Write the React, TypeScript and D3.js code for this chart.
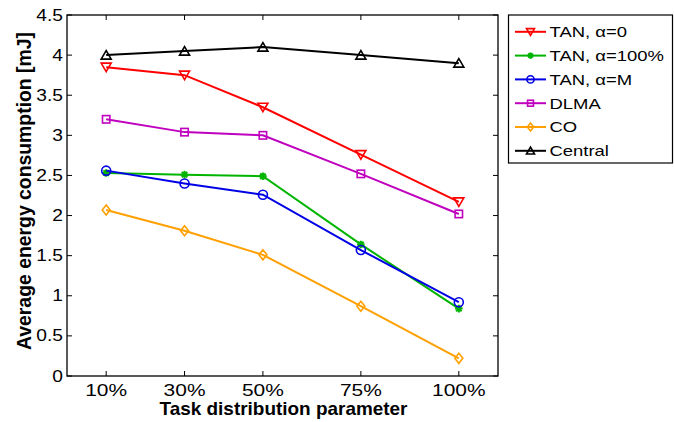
import React from "react";
import * as d3 from "d3";

const xValues = [10, 30, 50, 75, 100];
const xTickLabels = ["10%", "30%", "50%", "75%", "100%"];
const yTicks = [0, 0.5, 1, 1.5, 2, 2.5, 3, 3.5, 4, 4.5];
const yTickLabels = ["0", "0.5", "1", "1.5", "2", "2.5", "3", "3.5", "4", "4.5"];

const seriesNames = ["TAN, α=0", "TAN, α=100%", "TAN, α=M", "DLMA", "CO", "Central"];
const seriesColors = ["#ff0000", "#00b400", "#0000e6", "#bf00bf", "#ffa000", "#000000"];
const seriesMarkers = ["triDown", "star", "circle", "square", "diamond", "triUp"];

const tan0 = [3.85, 3.75, 3.35, 2.76, 2.17];
const tan100 = [2.53, 2.51, 2.49, 1.64, 0.84];
const tanM = [2.56, 2.4, 2.26, 1.57, 0.92];
const dlma = [3.2, 3.04, 3.0, 2.52, 2.02];
const co = [2.07, 1.81, 1.51, 0.87, 0.22];
const central = [4.0, 4.05, 4.1, 4.0, 3.9];

const seriesValues = [tan0, tan100, tanM, dlma, co, central];

const FONT = "'Liberation Sans', Arial, Helvetica, sans-serif";

function Marker({ type, x, y, color, s = 1 }: { type: string; x: number; y: number; color: string; s?: number }) {
  const sw = 1.6;
  const common = { fill: "none", stroke: color, strokeWidth: sw };
  if (type === "triDown") {
    const p = `M${x - 5 * s},${y - 4 * s}L${x + 5 * s},${y - 4 * s}L${x},${y + 4.5 * s}Z`;
    return <path d={p} {...common} />;
  }
  if (type === "triUp") {
    const p = `M${x - 5 * s},${y + 4 * s}L${x + 5 * s},${y + 4 * s}L${x},${y - 4.5 * s}Z`;
    return <path d={p} {...common} />;
  }
  if (type === "circle") return <circle cx={x} cy={y} r={4.5 * s} {...common} />;
  if (type === "square") {
    const h = 3.7 * s;
    return <rect x={x - h} y={y - h} width={2 * h} height={2 * h} {...common} />;
  }
  if (type === "diamond") {
    const p = `M${x},${y - 5 * s}L${x + 4 * s},${y}L${x},${y + 5 * s}L${x - 4 * s},${y}Z`;
    return <path d={p} {...common} />;
  }
  if (type === "star") {
    const r = 3.8 * s;
    const d = r * 0.72;
    const p = `M${x - r},${y}L${x + r},${y}M${x},${y - r}L${x},${y + r}M${x - d},${y - d}L${x + d},${y + d}M${x - d},${y + d}L${x + d},${y - d}`;
    return <path d={p} fill="none" stroke={color} strokeWidth={2} />;
  }
  return null;
}

function SText({ x, y, size, sx = 1, anchor = "start", children, weight = "normal" }: any) {
  return (
    <text
      transform={`translate(${x},${y}) scale(${sx},1)`}
      fontSize={size}
      fontFamily={FONT}
      fontWeight={weight}
      textAnchor={anchor}
      fill="#000"
    >
      {children}
    </text>
  );
}

export default function App() {
  const W = 674;
  const H = 422;
  const left = 67, right = 498, top = 15, bottom = 376;
  const x = d3.scaleLinear().domain([0, 110]).range([left, right]);
  const y = d3.scaleLinear().domain([0, 4.5]).range([bottom, top]);
  const line = d3
    .line<number>()
    .x((_, i) => x(xValues[i]))
    .y((d) => y(d));

  const tickLen = 5;
  const legX = 508.5, legY = 15, legW = 164, legH = 148;
  const legRowY = (i: number) => 31.8 + i * 23.8;

  return (
    <svg width={W} height={H} style={{ position: "absolute", left: 0, top: 0, background: "#fff" }}>
      <rect x={0} y={0} width={W} height={H} fill="#fff" />
      {/* ticks */}
      {xValues.map((v, i) => (
        <g key={"xt" + i} stroke="#000" strokeWidth={1}>
          <line x1={x(v)} x2={x(v)} y1={bottom} y2={bottom - tickLen} />
          <line x1={x(v)} x2={x(v)} y1={top} y2={top + tickLen} />
        </g>
      ))}
      {yTicks.map((v, i) => (
        <g key={"yt" + i} stroke="#000" strokeWidth={1}>
          <line x1={left} x2={left + tickLen} y1={y(v)} y2={y(v)} />
          <line x1={right} x2={right - tickLen} y1={y(v)} y2={y(v)} />
        </g>
      ))}
      {/* series */}
      {seriesValues.map((vals, si) => (
        <g key={"s" + si}>
          <path d={line(vals) || ""} fill="none" stroke={seriesColors[si]} strokeWidth={2} />
          {vals.map((v, i) => (
            <Marker key={i} type={seriesMarkers[si]} x={x(xValues[i])} y={y(v)} color={seriesColors[si]} />
          ))}
        </g>
      ))}
      {/* frame */}
      <rect x={left} y={top} width={right - left} height={bottom - top} fill="none" stroke="#000" strokeWidth={1.3} />
      {/* tick labels */}
      {yTicks.map((v, i) => (
        <SText key={"yl" + i} x={63} y={y(v) + 5.6} size={16} sx={1.2} anchor="end">
          {yTickLabels[i]}
        </SText>
      ))}
      {xValues.map((v, i) => (
        <SText key={"xl" + i} x={x(v)} y={395.6} size={16.5} sx={1.27} anchor="middle">
          {xTickLabels[i]}
        </SText>
      ))}
      {/* axis titles */}
      <text
        x={283.5}
        y={414.5}
        fontSize={18.5}
        fontWeight="bold"
        fontFamily={FONT}
        textAnchor="middle"
        textLength={248}
        lengthAdjust="spacingAndGlyphs"
      >
        Task distribution parameter
      </text>
      <text
        transform={`translate(30.7,191) rotate(-90)`}
        fontSize={19.5}
        fontWeight="bold"
        fontFamily={FONT}
        textAnchor="middle"
        textLength={318}
        lengthAdjust="spacingAndGlyphs"
      >
        Average energy consumption [mJ]
      </text>
      {/* legend */}
      <rect x={legX} y={legY} width={legW} height={legH} fill="#fff" stroke="#000" strokeWidth={1.2} />
      {seriesNames.map((n, i) => (
        <g key={"lg" + i}>
          <line x1={515} x2={546} y1={legRowY(i)} y2={legRowY(i)} stroke={seriesColors[i]} strokeWidth={2} />
          <Marker type={seriesMarkers[i]} x={530.5} y={legRowY(i)} color={seriesColors[i]} s={0.8} />
          <SText x={549.5} y={legRowY(i) + 5.4} size={15} sx={1.23}>
            {n}
          </SText>
        </g>
      ))}
    </svg>
  );
}
